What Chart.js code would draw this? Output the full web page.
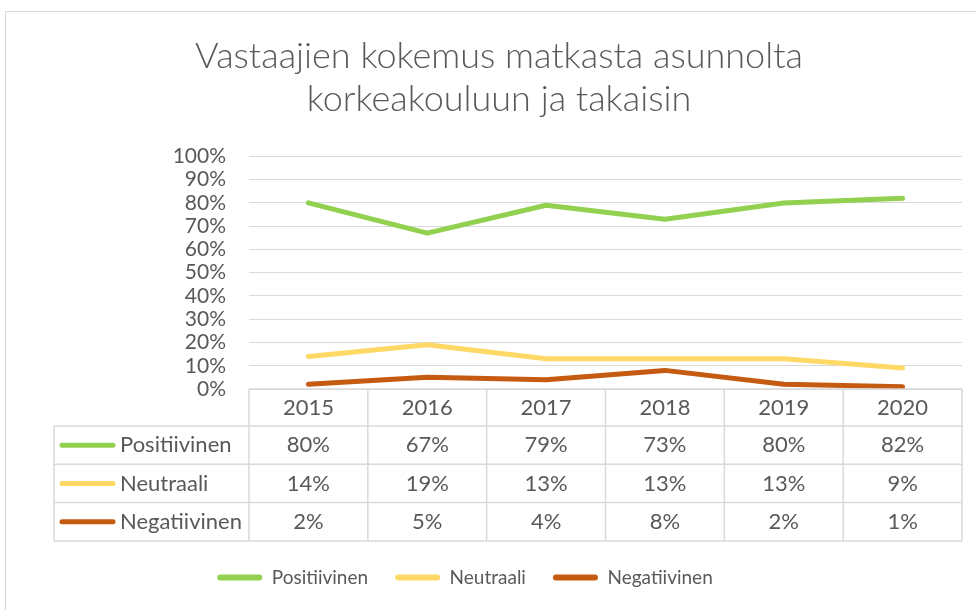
<!DOCTYPE html>
<html>
<head>
<meta charset="utf-8">
<script src="https://cdn.jsdelivr.net/npm/chart.js@4"></script>
<style>
  html, body { margin: 0; padding: 0; background: #fff; }
  #wrap { width: 976px; height: 610px; }
</style>
</head>
<body>
<div id="wrap"><canvas id="kokemus-chart"></canvas></div>
<script>
// data
const years = ['2015', '2016', '2017', '2018', '2019', '2020'];
const positiivinen = [80, 67, 79, 73, 80, 82];
const neutraali = [14, 19, 13, 13, 13, 9];
const negatiivinen = [2, 5, 4, 8, 2, 1];
const seriesNames = ['Positiivinen', 'Neutraali', 'Negatiivinen'];
const seriesColors = ['#92D050', '#FFD966', '#C55A11'];
const titleLines = ['Vastaajien kokemus matkasta asunnolta', 'korkeakouluun ja takaisin'];

const FONT = 'Lato';
const TEXT = '#595959';
const GRID = '#D9D9D9';

// light frame round the whole chart, like the excel chart area
const frame = {
  id: 'frame',
  beforeDraw(chart) {
    const ctx = chart.ctx;
    ctx.save();
    ctx.strokeStyle = GRID;
    ctx.lineWidth = 1;
    ctx.strokeRect(5.5, 11.5, 1000, 700);
    ctx.restore();
  }
};

// excel centres the legend left of the title middle
const legendShift = {
  id: 'legendShift',
  afterLayout(chart) {
    chart.legend.left -= 34;
    chart.legend.right -= 34;
  }
};

// data table under the plot, columns follow the x scale
const dataTable = {
  id: 'dataTable',
  afterDraw(chart) {
    const ctx = chart.ctx;
    const x = chart.scales.x;
    const area = chart.chartArea;
    const colW = (area.right - area.left) / years.length;
    const top = area.bottom;
    const headH = 37, rowH = 38.3;
    const left = 54;
    const rows = chart.data.datasets;
    const bottom = top + headH + rowH * rows.length;

    ctx.save();
    ctx.strokeStyle = GRID;
    ctx.lineWidth = 1.5;
    ctx.beginPath();
    ctx.moveTo(area.left, top);
    ctx.lineTo(area.right, top);
    for (let r = 0; r <= rows.length; r++) {
      const y = top + headH + rowH * r;
      ctx.moveTo(left, y);
      ctx.lineTo(area.right, y);
    }
    for (let c = 0; c <= years.length; c++) {
      const xx = area.left + colW * c;
      ctx.moveTo(xx, top);
      ctx.lineTo(xx, bottom);
    }
    ctx.moveTo(left, top + headH);
    ctx.lineTo(left, bottom);
    ctx.stroke();

    ctx.fillStyle = TEXT;
    ctx.font = '22px ' + FONT;
    ctx.textAlign = 'center';
    ctx.textBaseline = 'middle';
    years.forEach((yr, i) => ctx.fillText(yr, x.getPixelForValue(i), top + headH / 2));

    rows.forEach((ds, r) => {
      const cy = top + headH + rowH * r + rowH / 2;
      ctx.textAlign = 'center';
      ds.data.forEach((v, i) => ctx.fillText(v + '%', x.getPixelForValue(i), cy));
      ctx.strokeStyle = ds.borderColor;
      ctx.lineWidth = 5;
      ctx.lineCap = 'round';
      ctx.beginPath();
      ctx.moveTo(62, cy);
      ctx.lineTo(113, cy);
      ctx.stroke();
      ctx.textAlign = 'left';
      ctx.fillText(ds.label, 120, cy);
    });
    ctx.restore();
  }
};

const allSeries = [positiivinen, neutraali, negatiivinen];
const datasets = allSeries.map((vals, i) => ({
  label: seriesNames[i],
  data: vals,
  borderColor: seriesColors[i],
  backgroundColor: seriesColors[i],
  borderWidth: 5,
  pointRadius: 0,
  tension: 0,
  borderCapStyle: 'round',
  borderJoinStyle: 'round'
}));

const config = {
  type: 'line',
  data: { labels: years, datasets: datasets },
  plugins: [frame, legendShift, dataTable],
  options: {
    responsive: true,
    maintainAspectRatio: false,
    animation: false,
    devicePixelRatio: 1,
    layout: { padding: { left: 36, right: 14, top: 0, bottom: 13 } },
    plugins: {
      title: {
        display: true,
        text: titleLines,
        color: TEXT,
        font: { family: FONT, size: 36, weight: '300', lineHeight: 1.2 },
        padding: { top: 35, bottom: 35 }
      },
      legend: {
        position: 'bottom',
        labels: {
          color: TEXT,
          font: { family: FONT, size: 19 },
          boxWidth: 45,
          boxHeight: 6,
          padding: 27,
          useBorderRadius: true,
          borderRadius: 3,
          generateLabels(chart) {
            return Chart.defaults.plugins.legend.labels.generateLabels(chart)
              .map(l => Object.assign(l, { fillStyle: l.strokeStyle, lineWidth: 0 }));
          }
        }
      },
      tooltip: { enabled: false }
    },
    scales: {
      x: {
        offset: true,
        grid: { display: false },
        border: { display: false },
        ticks: { display: false },
        afterFit(s) { s.height = 152; }
      },
      y: {
        min: 0,
        max: 100,
        ticks: {
          stepSize: 10,
          autoSkip: false,
          color: TEXT,
          font: { family: FONT, size: 21 },
          padding: 23,
          callback: v => v + '%'
        },
        grid: { color: GRID, drawTicks: false },
        border: { display: false },
        afterFit(s) { s.width = 213; }
      }
    }
  }
};

new Chart(document.getElementById('kokemus-chart'), config);
</script>
</body>
</html>
